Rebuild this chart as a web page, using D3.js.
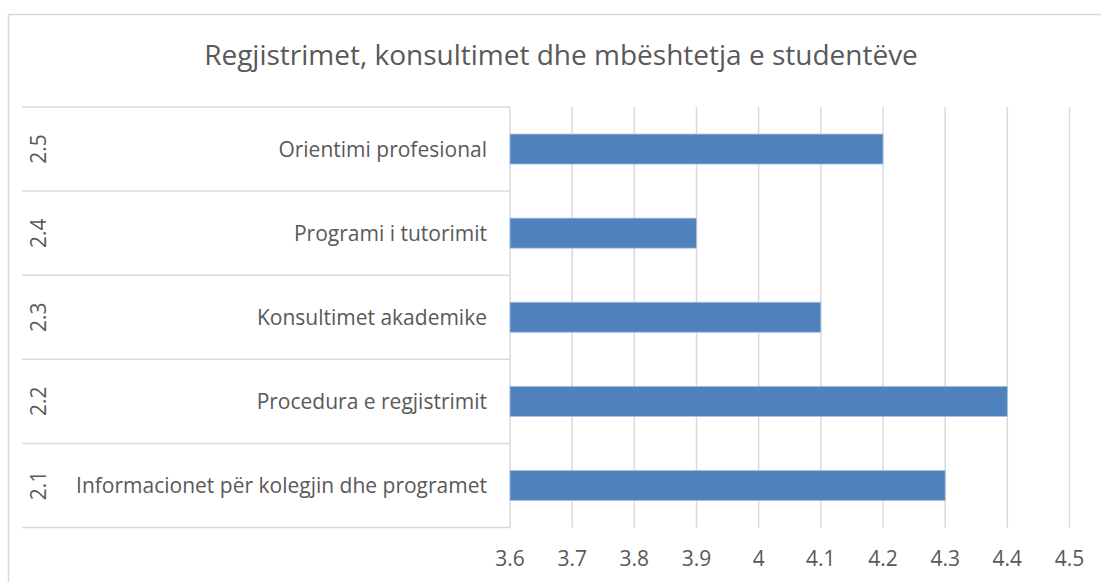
<!DOCTYPE html>
<html lang="sq">
<head>
<meta charset="UTF-8">
<title>Regjistrimet, konsultimet dhe mbështetja e studentëve</title>
<script src="https://d3js.org/d3.v7.min.js"></script>
<style>
  body { margin: 0; background: #fff; }
  svg text { font-family: "Open Sans", sans-serif; fill: #595959; }
</style>
</head>
<body>
<div class="chart"></div>
<script>
// data, bottom to top as in the picture
var codes = ["2.1", "2.2", "2.3", "2.4", "2.5"];
var labels = ["Informacionet për kolegjin dhe programet", "Procedura e regjistrimit",
              "Konsultimet akademike", "Programi i tutorimit", "Orientimi profesional"];
var values = [4.3, 4.4, 4.1, 3.9, 4.2];
var xTicks = [3.6, 3.7, 3.8, 3.9, 4.0, 4.1, 4.2, 4.3, 4.4, 4.5];
var title = "Regjistrimet, konsultimet dhe mbështetja e studentëve";

var W = 1101, H = 582;
var plot = {left: 510, right: 1069.5, top: 107, bottom: 527.5};

var svg = d3.select(".chart").append("svg")
    .attr("width", W)
    .attr("height", H);

// chart frame (runs off the right and bottom edges)
svg.append("rect")
    .attr("x", 8.5).attr("y", 14.5)
    .attr("width", W + 20).attr("height", H + 20)
    .style("fill", "none")
    .style("stroke", "#d9d9d9")
    .style("stroke-width", 1.5);

svg.append("text")
    .attr("x", 561)
    .attr("y", 65)
    .style("text-anchor", "middle")
    .style("font-size", "28px")
    .text(title);

var x = d3.scaleLinear()
    .domain([3.6, 4.5])
    .range([plot.left, plot.right]);

// categories from the bottom upwards
var y = d3.scaleBand()
    .domain(codes)
    .range([plot.bottom, plot.top]);

// vertical gridlines
svg.append("g")
    .selectAll("line")
    .data(xTicks.slice(1))
    .enter().append("line")
    .attr("x1", d => x(d)).attr("x2", d => x(d))
    .attr("y1", plot.top).attr("y2", plot.bottom)
    .style("stroke", "#d9d9d9")
    .style("stroke-width", 1.5);

// category separators on the left
var seps = [plot.top].concat(codes.map(c => y(c) + y.bandwidth()));
svg.append("g")
    .selectAll("line")
    .data(seps)
    .enter().append("line")
    .attr("x1", 22).attr("x2", plot.left)
    .attr("y1", d => d).attr("y2", d => d)
    .style("stroke", "#d9d9d9")
    .style("stroke-width", 1.5);

// vertical axis line
svg.append("line")
    .attr("x1", plot.left).attr("x2", plot.left)
    .attr("y1", plot.top).attr("y2", plot.bottom)
    .style("stroke", "#d9d9d9")
    .style("stroke-width", 1.5);

// bars
var barH = 30;
svg.append("g")
    .selectAll("rect")
    .data(codes)
    .enter().append("rect")
    .attr("x", x(3.6))
    .attr("y", d => y(d) + y.bandwidth() / 2 - barH / 2)
    .attr("width", (d, i) => x(values[i]) - x(3.6))
    .attr("height", barH)
    .style("fill", "#4f81bd")
    .style("stroke", "#a9c0de")
    .style("stroke-width", 0.8);

// x tick labels
svg.append("g")
    .selectAll("text")
    .data(xTicks)
    .enter().append("text")
    .attr("x", d => x(d))
    .attr("y", 566)
    .style("text-anchor", "middle")
    .style("font-size", "21px")
    .text(d => d3.format("~g")(d));

// inner category labels
svg.append("g")
    .selectAll("text")
    .data(codes)
    .enter().append("text")
    .attr("x", 487)
    .attr("y", d => y(d) + y.bandwidth() / 2)
    .attr("dy", "0.36em")
    .style("text-anchor", "end")
    .style("font-size", "21px")
    .text((d, i) => labels[i]);

// outer category labels, rotated
svg.append("g")
    .selectAll("text")
    .data(codes)
    .enter().append("text")
    .attr("transform", d => "translate(38," + (y(d) + y.bandwidth() / 2) + ") rotate(-90)")
    .attr("dy", "0.36em")
    .style("text-anchor", "middle")
    .style("font-size", "21px")
    .text(d => d);
</script>
</body>
</html>
